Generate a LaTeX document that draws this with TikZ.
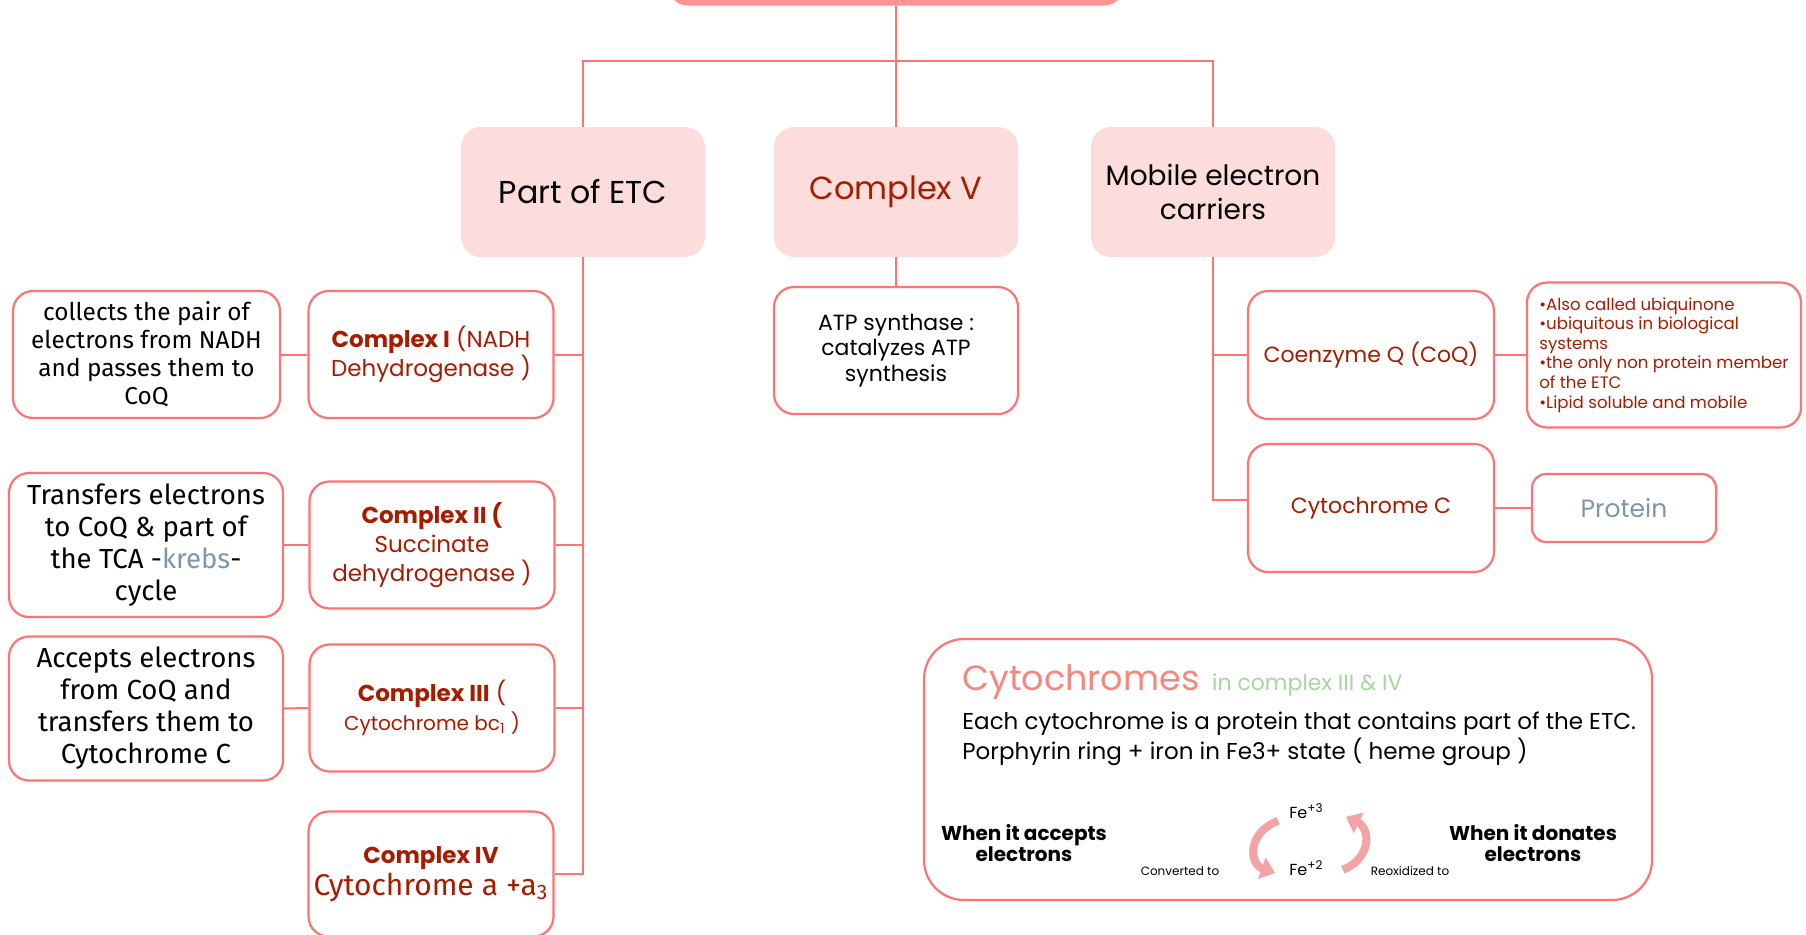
\documentclass[tikz,border=0pt]{standalone}
\usepackage{fontspec}
\setmainfont{Poppins}
\newfontfamily\exofont{Fira Sans}
\usetikzlibrary{calc,arrows.meta}

\definecolor{linkred}{HTML}{FF7373}
\definecolor{pinkfill}{HTML}{FDDCDC}
\definecolor{topfill}{HTML}{FF9494}
\definecolor{wine}{HTML}{A61C00}
\definecolor{slate}{HTML}{7F96A8}
\definecolor{salmon}{HTML}{F4877F}
\definecolor{sage}{HTML}{A8D5A0}
\definecolor{fadedpink}{HTML}{F2A3A3}

\tikzset{
  topic/.style={rectangle, fill=pinkfill, rounded corners=10pt, minimum width=122pt, minimum height=65pt, align=center, font=\fontsize{14}{17}\selectfont},
  leaf/.style={rectangle, draw=linkred, line width=1.1pt, fill=white, rounded corners=10pt, align=center, inner sep=2pt},
  cplx/.style={leaf, minimum width=122.5pt, minimum height=63.5pt, text=wine, font=\fontsize{11.5}{14.5}\selectfont},
  desc/.style={leaf, minimum width=137pt, minimum height=72pt, font=\exofont\fontsize{13.8}{16}\selectfont},
  link/.style={draw=linkred, line width=1pt},
  cycarrow/.style={draw=fadedpink, line width=4pt, -{Triangle[width=11pt,length=7pt]}}
}

\begin{document}
\begin{tikzpicture}[x=0.5pt, y=-0.5pt]

\useasboundingbox (0,0) rectangle (1806,934);

\node [topic, fill=topfill, minimum width=228pt, minimum height=40pt, anchor=south] (root) at (896,6) {};
\coordinate (fork) at (896,61);

\node [topic, font=\fontsize{15.8}{19}\selectfont] (etc) at (583,192) {Part of ETC};
\node [topic, text=wine, font=\fontsize{16}{19}\selectfont] (cv) at (896,192) {Complex V};
\node [topic] (mob) at (1213,192) {Mobile electron\\carriers};

\draw [link] (root.south) -- (fork);
\draw [link] (etc.north) |- (fork) -| (mob.north);
\draw [link] (fork) -- (cv.north);

%%%%%%%%%%%%%%%%%%%%%%%%%%%%%%%%%%%%%%%%%%%%%%%%%%%%%%%%%%%%%%%%%%%%%%%%%%%%%%%%%%%%%%%%

\node [cplx] (c1) at (431,354.5) {\textbf{Complex I} (NADH\\Dehydrogenase )};
\node [cplx] (c2) at (432,545) {\textbf{Complex II (}\\Succinate\\dehydrogenase )};
\node [cplx] (c3) at (432,708) {\textbf{Complex III} (\\{\fontsize{10}{12}\selectfont Cytochrome bc\textsubscript{1} )}};
\node [cplx, minimum height=62.5pt, font=\fontsize{11.5}{16}\selectfont] (c4) at (431,874) {\textbf{Complex IV}\\{\exofont\fontsize{15}{17}\selectfont Cytochrome a +a\textsubscript{3}}};

\node [desc, minimum width=133.5pt, minimum height=63.5pt, font=\exofont\fontsize{12.2}{14}\selectfont] (d1) at (146.5,354.5) {collects the pair of\\electrons from NADH\\and passes them to\\CoQ};
\node [desc] (d2) at (146,545) {Transfers electrons\\to CoQ \&  part of\\the TCA -\textcolor{slate}{krebs}-\\cycle};
\node [desc] (d3) at (146,708.5) {Accepts electrons\\from CoQ and\\transfers them to\\Cytochrome C};

\draw [link] (etc.south) |- (c4.east);
\foreach \n in {c1,c2,c3} {
    \draw [link] (\n.east) -- (\n.east -| etc.south);
}
\foreach \i in {1,2,3} {
    \draw [link] (d\i.east) -- (c\i.west);
}

%%%%%%%%%%%%%%%%%%%%%%%%%%%%%%%%%%%%%%%%%%%%%%%%%%%%%%%%%%%%%%%%%%%%%%%%%%%%%%%%%%%%%%%%

\node [leaf, minimum width=122pt, minimum height=63.5pt, font=\fontsize{11}{12.7}\selectfont] (atp) at (896,350.5) {ATP synthase :\\catalyzes ATP\\synthesis};
\draw [link] (cv.south) -- (atp.north);

\node [leaf, minimum width=123pt, minimum height=64pt, text=wine, font=\fontsize{11}{13}\selectfont] (coq) at (1371,355) {Coenzyme Q (CoQ)};
\node [leaf, minimum width=123pt, minimum height=64pt, text=wine, font=\fontsize{11}{13}\selectfont] (cytc) at (1371,508) {Cytochrome C};
\node [leaf, minimum width=137pt, minimum height=72.5pt, align=left, text=wine, font=\fontsize{8.3}{9.8}\selectfont] (info) at (1664,355) {•Also called ubiquinone\\•ubiquitous in biological\\systems\\•the only non protein member\\of the ETC\\•Lipid soluble and mobile};
\node [leaf, minimum width=92pt, minimum height=34pt, rounded corners=7pt, text=slate, font=\fontsize{12.5}{14}\selectfont] (protein) at (1624,508) {Protein};

\draw [link] (mob.south) |- ([yshift=4pt]cytc.west);
\draw [link] (coq.west) -- (coq.west -| mob.south);
\draw [link] (coq.east) -- (info.west);
\draw [link] (cytc.east) -- (protein.west);

%%%%%%%%%%%%%%%%%%%%%%%%%%%%%%%%%%%%%%%%%%%%%%%%%%%%%%%%%%%%%%%%%%%%%%%%%%%%%%%%%%%%%%%%

\node [leaf, minimum width=364pt, minimum height=130.5pt, rounded corners=20pt] (cyto) at (1288,769.5) {};
\node [anchor=base west, inner sep=0pt, text=salmon, font=\fontsize{17.5}{21}\selectfont] (cytitle) at (962,690) {Cytochromes};
\node [anchor=base west, inner sep=0pt, text=sage, font=\fontsize{11}{13}\selectfont] (cytsub) at ($(cytitle.base east)+(12,0)$) {in complex III \& IV};
\node [anchor=north west, inner sep=0pt, align=left, font=\fontsize{11.5}{15}\selectfont] (cytbody) at (962,712) {Each cytochrome is a protein that contains part of the ETC.\\Porphyrin ring + iron in Fe3+ state ( heme group )};

\node [align=center, font=\bfseries\fontsize{10}{10.5}\selectfont] (accept) at (1024,843) {When it accepts\\electrons};
\node [align=center, font=\bfseries\fontsize{10}{10.5}\selectfont] (donate) at (1533,843) {When it donates\\electrons};
\node [anchor=base, font=\fontsize{6}{7}\selectfont] (conv) at (1180,875) {Converted to};
\node [anchor=base, font=\fontsize{6}{7}\selectfont] (reox) at (1410,875) {Reoxidized to};
\node [anchor=base west, inner sep=1pt, font=\fontsize{8}{9}\selectfont] (fe3) at (1287,818) {Fe\textsuperscript{+3}};
\node [anchor=base west, inner sep=1pt, font=\fontsize{8}{9}\selectfont] (fe2) at (1287,875) {Fe\textsuperscript{+2}};

\draw [cycarrow] ($(fe3.west)+(-9,10)$) .. controls ($(fe3.west)+(-40,22)$) and ($(fe2.west)+(-38,-4)$) .. ($(fe2.west)+(-12,5)$);
\draw [cycarrow] ($(fe2.east)+(17,2)$) .. controls ($(fe2.east)+(45,-9)$) and ($(fe3.east)+(45,18)$) .. ($(fe3.east)+(20,6)$);

\end{tikzpicture}
\end{document}
